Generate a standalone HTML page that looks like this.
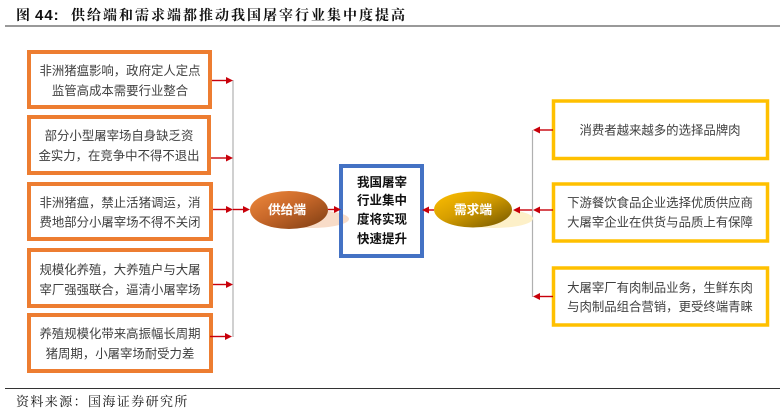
<!DOCTYPE html>
<html lang="zh">
<head>
<meta charset="utf-8">
<style>
html,body{margin:0;padding:0;background:#fff;width:780px;height:419px;overflow:hidden}
svg{display:block}
.b{font-family:"Liberation Sans","Noto Sans CJK SC",sans-serif;font-size:12.4px;fill:#404040;text-anchor:middle}
.c{font-family:"Liberation Sans","Noto Sans CJK SC",sans-serif;font-size:12.5px;font-weight:700;fill:#111;text-anchor:middle}
.e{font-family:"Liberation Sans","Noto Sans CJK SC",sans-serif;font-size:12.7px;font-weight:700;fill:#fff;text-anchor:middle}
.t{font-family:"Liberation Serif","Noto Serif CJK SC",serif;font-size:14px;font-weight:700;fill:#111;letter-spacing:2px}
.n{font-family:"Liberation Sans",sans-serif;font-size:15px;font-weight:700;fill:#111;letter-spacing:1px}
.s{font-family:"Liberation Serif","Noto Serif CJK SC",serif;font-size:13px;fill:#111;letter-spacing:1.4px}
.o{fill:#fff;stroke:#ed7d31;stroke-width:4}
.y{fill:#fff;stroke:#ffc000;stroke-width:3.5}
.l{stroke:#c8000a;stroke-width:1.4;fill:none}
.h{fill:#c8000a}
.v{stroke:#b0b0b0;stroke-width:1.2;fill:none}
</style>
</head>
<body>
<svg width="780" height="419" viewBox="0 0 780 419" xmlns="http://www.w3.org/2000/svg">
<defs>
<linearGradient id="g1" x1="0" y1="0" x2="1" y2="1"><stop offset="0" stop-color="#f08a3c"/><stop offset=".45" stop-color="#c8682a"/><stop offset="1" stop-color="#7c3c12"/></linearGradient>
<linearGradient id="g2" x1="0" y1="0" x2="1" y2="1"><stop offset="0" stop-color="#ffc000"/><stop offset=".45" stop-color="#d69e00"/><stop offset="1" stop-color="#705400"/></linearGradient>
</defs>

<text class="t" x="16" y="20">图</text>
<text class="n" x="35" y="20">44:</text>
<text class="t" x="71" y="20">供给端和需求端都推动我国屠宰行业集中度提高</text>
<line x1="5" y1="26" x2="780" y2="26" stroke="#333" stroke-width="1"/>

<line class="v" x1="233" y1="80" x2="233" y2="337"/>
<line class="v" x1="532.5" y1="130" x2="532.5" y2="297"/>

<rect class="o" x="29" y="52" width="181" height="55"/>
<text class="b" x="120" y="75">非洲猪瘟影响，政府定人定点</text>
<text class="b" x="120" y="95">监管高成本需要行业整合</text>

<rect class="o" x="29" y="117" width="180" height="56"/>
<text class="b" x="119" y="140">部分小型屠宰场自身缺乏资</text>
<text class="b" x="119" y="160">金实力，在竞争中不得不退出</text>

<rect class="o" x="29" y="184" width="182" height="55"/>
<text class="b" x="120" y="207">非洲猪瘟，禁止活猪调运，消</text>
<text class="b" x="120" y="226.500">费地部分小屠宰场不得不关闭</text>

<rect class="o" x="29" y="250" width="182" height="56"/>
<text class="b" x="120" y="274">规模化养殖，大养殖户与大屠</text>
<text class="b" x="120" y="294">宰厂强强联合，逼清小屠宰场</text>

<rect class="o" x="29" y="315" width="182" height="56"/>
<text class="b" x="120" y="338">养殖规模化带来高振幅长周期</text>
<text class="b" x="120" y="358">猪周期，小屠宰场耐受力差</text>

<rect class="y" x="553.5" y="101" width="214" height="57.500"/>
<text class="b" x="660" y="134.500">消费者越来越多的选择品牌肉</text>

<rect class="y" x="553.5" y="184" width="214" height="57"/>
<text class="b" x="660" y="207">下游餐饮食品企业选择优质供应商</text>
<text class="b" x="660" y="226.500">大屠宰企业在供货与品质上有保障</text>

<rect class="y" x="553.5" y="268" width="214" height="57"/>
<text class="b" x="660" y="292">大屠宰厂有肉制品业务，生鲜东肉</text>
<text class="b" x="660" y="311">与肉制品组合营销，更受终端青睐</text>

<rect x="341" y="166" width="81" height="90" fill="#fff"/>
<ellipse cx="310" cy="219" rx="39" ry="9" fill="#f8dcc8"/>
<ellipse cx="494" cy="218.500" rx="39" ry="9.500" fill="#fdf0c8"/>
<rect x="341" y="166" width="81" height="90" fill="none" stroke="#4472c4" stroke-width="4"/>
<text class="c" x="382" y="186.500">我国屠宰</text>
<text class="c" x="382" y="204.500">行业集中</text>
<text class="c" x="382" y="223.500">度将实现</text>
<text class="c" x="382" y="243">快速提升</text>

<ellipse cx="289" cy="210" rx="39" ry="19" fill="url(#g1)"/>
<text class="e" x="287" y="214">供给端</text>
<ellipse cx="473" cy="209.500" rx="39" ry="18" fill="url(#g2)"/>
<text class="e" x="473" y="214">需求端</text>

<g>
<line class="l" x1="212" y1="80.500" x2="227" y2="80.500"/><path class="h" d="M226 77 L233 80.500 L226 84Z"/>
<line class="l" x1="211" y1="158" x2="227" y2="158"/><path class="h" d="M226 154.500 L233 158 L226 161.500Z"/>
<line class="l" x1="213" y1="209.500" x2="227" y2="209.500"/><path class="h" d="M226 206 L233 209.500 L226 213Z"/>
<line class="l" x1="233" y1="209.500" x2="244" y2="209.500"/><path class="h" d="M243 206 L250 209.500 L243 213Z"/>
<line class="l" x1="213" y1="284.500" x2="227" y2="284.500"/><path class="h" d="M226 281 L233 284.500 L226 288Z"/>
<line class="l" x1="210" y1="336.500" x2="226" y2="336.500"/><path class="h" d="M225 333 L232 336.500 L225 340Z"/>
<line class="l" x1="328" y1="209.500" x2="335" y2="209.500"/><path class="h" d="M334 206 L341 209.500 L334 213Z"/>

<line class="l" x1="434" y1="210" x2="428" y2="210"/><path class="h" d="M429 206.500 L422 210 L429 213.500Z"/>
<line class="l" x1="532" y1="210" x2="518" y2="210"/><path class="h" d="M520 206.500 L513 210 L520 213.500Z"/>
<line class="l" x1="553" y1="210" x2="538" y2="210"/><path class="h" d="M540 206.500 L533 210 L540 213.500Z"/>
<line class="l" x1="553" y1="130" x2="538" y2="130"/><path class="h" d="M540 126.500 L533 130 L540 133.500Z"/>
<line class="l" x1="553" y1="296.500" x2="538" y2="296.500"/><path class="h" d="M540 293 L533 296.500 L540 300Z"/>
</g>

<line x1="5" y1="388.500" x2="780" y2="388.500" stroke="#333" stroke-width="1"/>
<text class="s" x="16" y="406">资料来源：国海证券研究所</text>
</svg>
</body>
</html>
